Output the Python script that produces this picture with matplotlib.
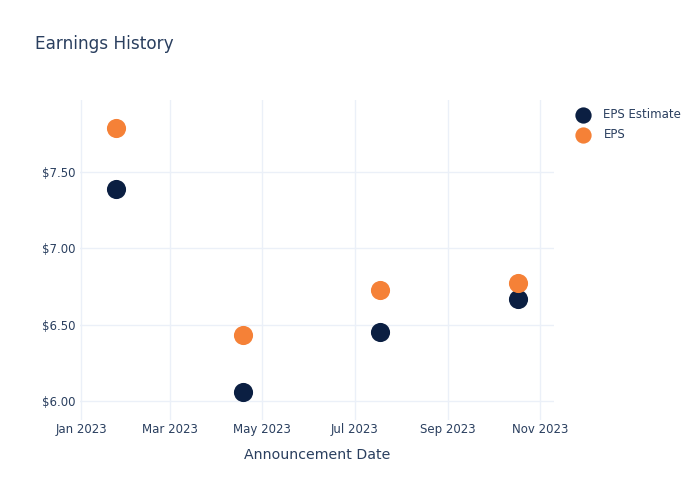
import matplotlib
matplotlib.use("Agg")
import matplotlib.pyplot as plt
import matplotlib.dates as mdates
from matplotlib.ticker import FuncFormatter
import datetime as dt

dates = ["2023-01-24", "2023-04-18", "2023-07-18", "2023-10-17"]
eps_estimate = [7.39, 6.06, 6.45, 6.67]
eps_actual = [7.79, 6.43, 6.73, 6.77]
x_ticks = ["2023-01-01", "2023-03-01", "2023-05-01", "2023-07-01", "2023-09-01", "2023-11-01"]
y_ticks = [6.00, 6.50, 7.00, 7.50]

TEXT = "#2a3f5f"
GRID = "#ebf0f8"
NAVY = "#0b1f42"
ORANGE = "#f58137"

plt.rcParams['font.family'] = ['DejaVu Sans']

d = [dt.datetime.fromisoformat(s) for s in dates]
xt = [dt.datetime.fromisoformat(s) for s in x_ticks]

fig = plt.figure(figsize=(7, 5), dpi=100)
ax = fig.add_axes([80/700, 80/500, 474/700, 320/500])

ax.scatter(d, eps_estimate, s=190, color=NAVY, label="EPS Estimate", zorder=3, linewidths=0)
ax.scatter(d, eps_actual, s=190, color=ORANGE, label="EPS", zorder=4, linewidths=0)

ax.set_xlim(dt.datetime(2022, 12, 31, 8), dt.datetime(2023, 11, 10))
ax.set_ylim(5.873, 7.975)
ax.set_xticks(xt)
ax.xaxis.set_major_formatter(mdates.DateFormatter("%b %Y"))
ax.set_yticks(y_ticks)
ax.yaxis.set_major_formatter(FuncFormatter(lambda v, p: f"${v:.2f}"))

for s in ax.spines.values():
    s.set_visible(False)
ax.grid(True, color=GRID, linewidth=1)
ax.set_axisbelow(True)
ax.tick_params(axis='both', length=0, labelsize=8.5, colors=TEXT)
ax.tick_params(axis='x', pad=2)
ax.tick_params(axis='y', pad=3)

ax.set_xlabel("Announcement Date", fontsize=10.2, color=TEXT, labelpad=9)

fig.text(35/700, 1 - 44/500, "Earnings History", fontsize=12.2, color=TEXT, va='center', ha='left')

leg = fig.legend(loc='upper left', bbox_to_anchor=(571/700, 1 - 108/500), frameon=False,
                 fontsize=8.5, labelcolor=TEXT, handletextpad=0.75, labelspacing=0.58,
                 borderpad=0, borderaxespad=0, markerscale=0.85)

fig.savefig("out.png", dpi=100)
